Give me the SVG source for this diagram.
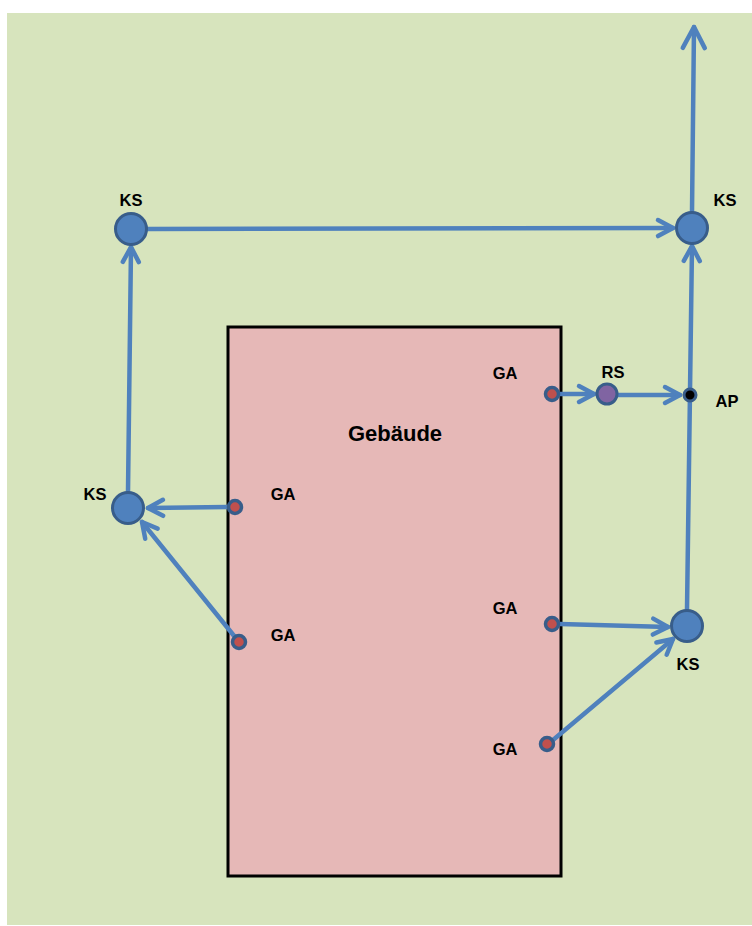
<svg xmlns="http://www.w3.org/2000/svg" width="752" height="926" viewBox="0 0 752 926">
<style>
.lbl{font-family:"Liberation Sans",Arial,sans-serif;font-weight:bold;font-size:16.5px;fill:#000;text-anchor:middle}
.ks{fill:#4F81BD;stroke:#385D8A;stroke-width:3}
.ga{fill:#C0504D;stroke:#385D8A;stroke-width:3.5}
.conn line{stroke:#4F81BD;stroke-width:4.5;stroke-linecap:round;fill:none}
.ah{fill:none;stroke:#4F81BD;stroke-width:4.5;stroke-linecap:round;stroke-linejoin:round}
</style>
<defs>
<marker id="arr" markerUnits="userSpaceOnUse" markerWidth="40" markerHeight="40" viewBox="-30 -20 40 40" refX="0" refY="0" orient="auto" overflow="visible">
<path class="ah" d="M-15,-8 L0,0 L-15,8"/>
</marker>
<marker id="arrBig" markerUnits="userSpaceOnUse" markerWidth="50" markerHeight="50" viewBox="-35 -25 50 50" refX="0" refY="0" orient="auto" overflow="visible">
<path class="ah" d="M-21,-11 L0,0 L-21,11"/>
</marker>
</defs>
<rect x="7" y="13" width="745" height="912" fill="#D7E4BD"/>
<g id="gebaeude">
<rect x="228" y="327" width="333" height="549" fill="#E6B8B7" stroke="#000" stroke-width="3"/>
<text class="lbl" x="395" y="441" style="font-size:22px">Gebäude</text>
</g>
<g class="conn">
<line x1="128" y1="492" x2="131" y2="247" marker-end="url(#arr)"/>
<line x1="147" y1="229" x2="673" y2="228" marker-end="url(#arr)"/>
<line x1="692" y1="212" x2="694" y2="27" marker-end="url(#arrBig)"/>
<line x1="687" y1="610" x2="692" y2="246" marker-end="url(#arr)"/>
<line x1="560" y1="394" x2="594" y2="394" marker-end="url(#arr)"/>
<line x1="618" y1="395" x2="680" y2="395" marker-end="url(#arr)"/>
<line x1="227" y1="507" x2="148" y2="508" marker-end="url(#arr)"/>
<line x1="239" y1="642" x2="142" y2="522" marker-end="url(#arr)"/>
<line x1="560" y1="624" x2="668" y2="627" marker-end="url(#arr)"/>
<line x1="553" y1="740" x2="673" y2="639" marker-end="url(#arr)"/>
</g>
<g id="ks1"><circle class="ks" cx="131" cy="229" r="15.5"/><text class="lbl" x="131" y="206">KS</text></g>
<g id="ks2"><circle class="ks" cx="692" cy="228" r="15.5"/><text class="lbl" x="725" y="206">KS</text></g>
<g id="ks3"><circle class="ks" cx="128" cy="508" r="15.5"/><text class="lbl" x="95" y="500">KS</text></g>
<g id="ks4"><circle class="ks" cx="687" cy="626" r="15.5"/><text class="lbl" x="688" y="670">KS</text></g>
<g id="ga1"><circle class="ga" cx="552" cy="394" r="6.5"/><text class="lbl" x="505" y="379">GA</text></g>
<g id="ga2"><circle class="ga" cx="235" cy="507" r="6.5"/><text class="lbl" x="283" y="500">GA</text></g>
<g id="ga3"><circle class="ga" cx="239" cy="642" r="6.5"/><text class="lbl" x="283" y="641">GA</text></g>
<g id="ga4"><circle class="ga" cx="552" cy="624" r="6.5"/><text class="lbl" x="505" y="614">GA</text></g>
<g id="ga5"><circle class="ga" cx="547" cy="744" r="6.5"/><text class="lbl" x="505" y="755">GA</text></g>
<g id="rs"><circle cx="607" cy="394" r="10" fill="#8064A2" stroke="#385D8A" stroke-width="3"/><text class="lbl" x="613" y="378">RS</text></g>
<g id="ap"><circle cx="690" cy="395" r="6" fill="#000" stroke="#385D8A" stroke-width="3"/><text class="lbl" x="727" y="407">AP</text></g>
</svg>
